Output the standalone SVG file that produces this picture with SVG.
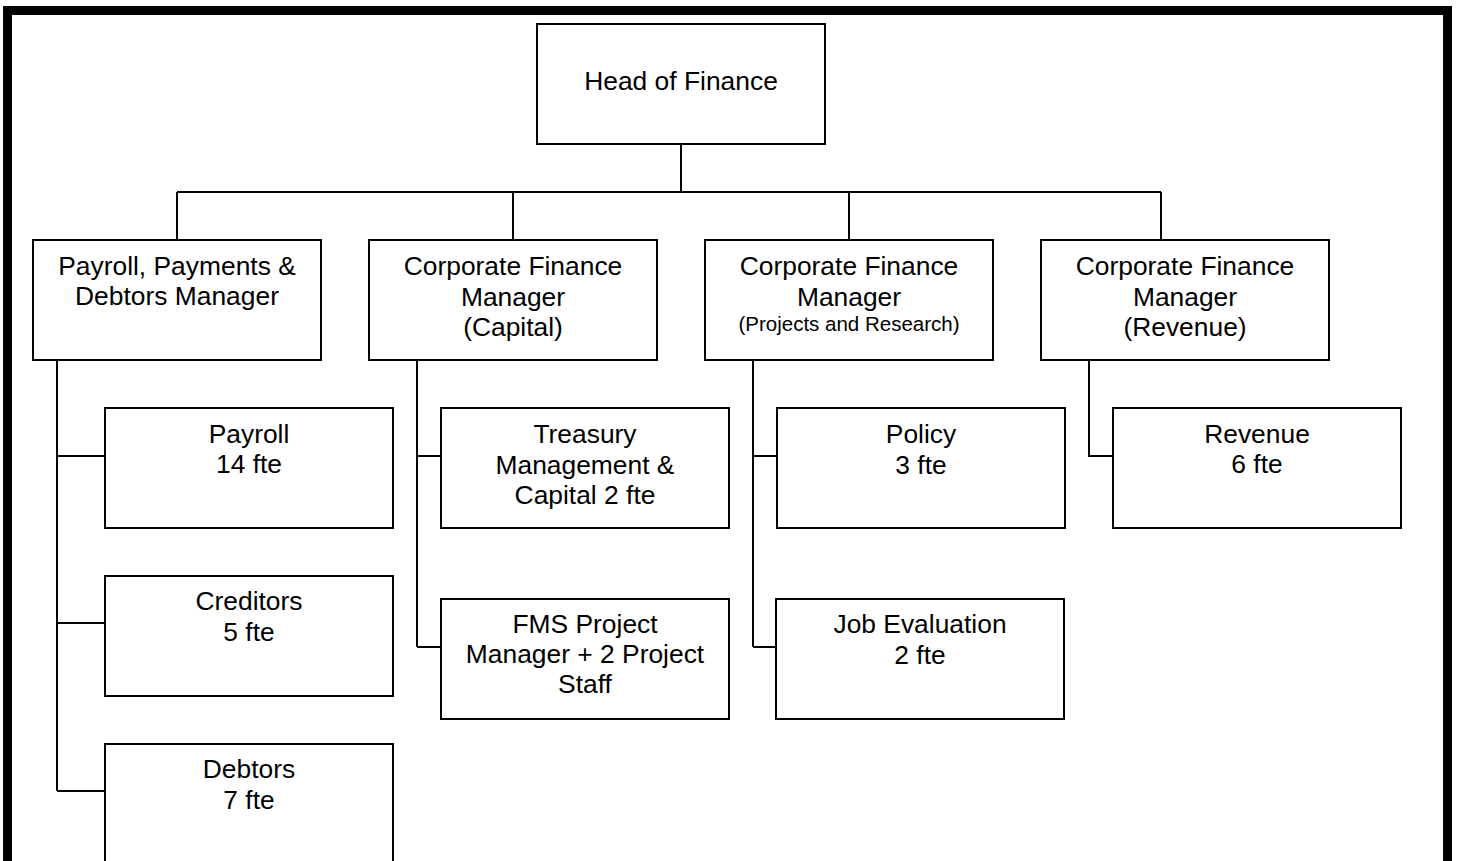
<svg xmlns="http://www.w3.org/2000/svg" width="1458" height="861" viewBox="0 0 1458 861">
<style>
.box{fill:#fff;stroke:#000;stroke-width:2}
.ln{fill:none;stroke:#000;stroke-width:2}
text{font-family:"Liberation Sans",Arial,Helvetica,sans-serif;font-size:26.4px;fill:#000;text-anchor:middle}
.sm{font-size:20.5px}
</style>
<rect x="0" y="0" width="1458" height="861" fill="#fff"/>
<rect x="7.5" y="10.5" width="1440" height="1000" fill="none" stroke="#000" stroke-width="9"/>
<g id="connectors">
<path class="ln" d="M681 144V192M177 192H1161M177 192V240M513 192V240M849 192V240M1161 192V240"/>
<path class="ln" d="M57 360V791M57 456H105M57 623H105M57 791H105"/>
<path class="ln" d="M417 360V647M417 456H441M417 647H441"/>
<path class="ln" d="M753 360V647M753 456H777M753 647H777"/>
<path class="ln" d="M1089 360V456H1113"/>
</g>
<g id="head"><rect class="box" x="537" y="24" width="288" height="120"/><text x="681" y="90">Head of Finance</text></g>
<g id="mgr-payroll"><rect class="box" x="33" y="240" width="288" height="120"/><text x="177" y="275">Payroll, Payments &amp;</text><text x="177" y="305">Debtors Manager</text></g>
<g id="mgr-capital"><rect class="box" x="369" y="240" width="288" height="120"/><text x="513" y="275">Corporate Finance</text><text x="513" y="306">Manager</text><text x="513" y="336">(Capital)</text></g>
<g id="mgr-projects"><rect class="box" x="705" y="240" width="288" height="120"/><text x="849" y="275">Corporate Finance</text><text x="849" y="306">Manager</text><text class="sm" x="849" y="331">(Projects and Research)</text></g>
<g id="mgr-revenue"><rect class="box" x="1041" y="240" width="288" height="120"/><text x="1185" y="275">Corporate Finance</text><text x="1185" y="306">Manager</text><text x="1185" y="336">(Revenue)</text></g>
<g id="payroll"><rect class="box" x="105" y="408" width="288" height="120"/><text x="249" y="443">Payroll</text><text x="249" y="473">14 fte</text></g>
<g id="creditors"><rect class="box" x="105" y="576" width="288" height="120"/><text x="249" y="610">Creditors</text><text x="249" y="641">5 fte</text></g>
<g id="debtors"><rect class="box" x="105" y="744" width="288" height="160"/><text x="249" y="778">Debtors</text><text x="249" y="809">7 fte</text></g>
<g id="treasury"><rect class="box" x="441" y="408" width="288" height="120"/><text x="585" y="443">Treasury</text><text x="585" y="474">Management &amp;</text><text x="585" y="504">Capital 2 fte</text></g>
<g id="fms"><rect class="box" x="441" y="599" width="288" height="120"/><text x="585" y="633">FMS Project</text><text x="585" y="663">Manager + 2 Project</text><text x="585" y="693">Staff</text></g>
<g id="policy"><rect class="box" x="777" y="408" width="288" height="120"/><text x="921" y="443">Policy</text><text x="921" y="474">3 fte</text></g>
<g id="jobeval"><rect class="box" x="776" y="599" width="288" height="120"/><text x="920" y="633">Job Evaluation</text><text x="920" y="664">2 fte</text></g>
<g id="revenue"><rect class="box" x="1113" y="408" width="288" height="120"/><text x="1257" y="443">Revenue</text><text x="1257" y="473">6 fte</text></g>
</svg>
